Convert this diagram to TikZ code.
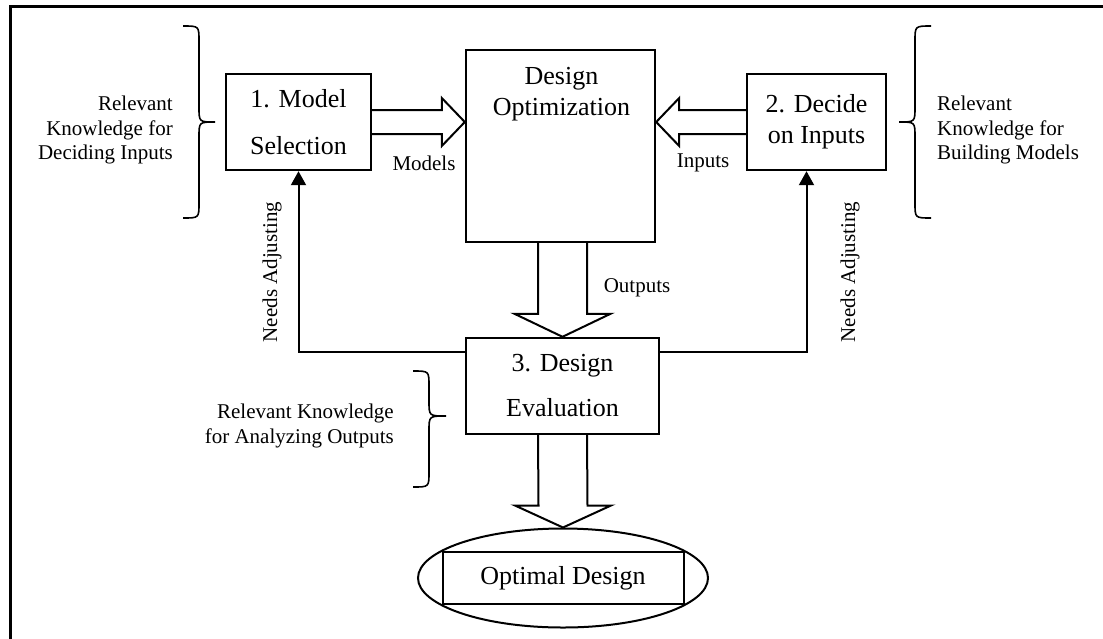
\documentclass[tikz,border=0pt]{standalone}
\usepackage{fontspec}
\setmainfont{Liberation Serif}
\usetikzlibrary{calc,shapes.geometric,arrows.meta}
\newcommand\kbrace[6]{% xe xv xt yt ym yb
  \draw[brc] (#1,#4) .. controls (#2,#4) .. (#2,{#4+15}) -- (#2,{#5-15})
    .. controls (#2,#5) .. (#3,#5) .. controls (#2,#5) .. (#2,{#5+15})
    -- (#2,{#6-15}) .. controls (#2,#6) .. (#1,#6);}
\begin{document}
\begin{tikzpicture}[x=1pt,y=-1pt,
  box/.style={draw,line width=2.4pt,inner sep=0pt,align=center,font=\fontsize{26}{31}\selectfont},
  lab/.style={font=\fontsize{21}{24.5}\selectfont,inner sep=0pt},
  blk/.style={draw,line width=2pt,line join=miter},
  conn/.style={line width=2pt,-{Triangle[width=15pt,length=14pt]}},
  brc/.style={line width=1.6pt}]
\useasboundingbox (0,0) rectangle (1103,638);
\draw[line width=3pt] (10,640) -- (10,6.5) -- (1105,6.5);

\node[box,minimum width=145pt,minimum height=96pt] (ms) at (298.5,122) {1. Model\\[16pt]Selection};
\node[box,minimum width=189pt,minimum height=192pt] (do) at (560.5,146) {};
\node[inner sep=0pt,anchor=north,align=center,font=\fontsize{26}{31}\selectfont] (dot) at ($(do.north)+(1,18)$) {Design\\Optimization};
\node[box,minimum width=139pt,minimum height=96pt] (di) at (816.5,122) {2. Decide\\on Inputs};
\node[box,minimum width=193pt,minimum height=96pt] (de) at (562.5,386) {3. Design\\[14pt]Evaluation};
\node[draw,ellipse,line width=2pt,minimum width=290pt,minimum height=99pt,inner sep=0pt] (el) at (563,578) {};
\node[box,line width=2pt,minimum width=241pt,minimum height=52pt] (od) at (el.center) {Optimal Design};

\node[lab] (lm) at (424,163) {Models};
\node[lab] (li) at (703,163) {Inputs};
\node[lab] (lo) at (637,288) {Outputs};
\node[lab,rotate=90] (na1) at (272,272) {Needs Adjusting};
\node[lab,rotate=90] (na2) at (850,272) {Needs Adjusting};

\node[lab,align=right,anchor=east] (k1) at (173,130) {Relevant\\Knowledge for\\Deciding Inputs};
\node[lab,align=left,anchor=west] (k2) at (937,130) {Relevant\\Knowledge for\\Building Models};
\node[lab,align=right,anchor=east] (k3) at (394,426) {Relevant Knowledge\\for Analyzing Outputs};

\kbrace{183}{199}{215}{26}{122}{218}
\kbrace{931}{915}{899}{26}{122}{218}
\kbrace{413}{429}{446}{371}{416}{487}

% block arrows
\draw[blk] ($(ms.east)+(0,-12)$) -- ($(ms.east -| do.west)+(-23,-12)$) -- ++(0,-12)
  -- (ms.east -| do.west) -- ++(-23,24) -- ++(0,-12) -- ($(ms.east)+(0,12)$);
\draw[blk] ($(di.west)+(0,-12)$) -- ($(di.west -| do.east)+(23,-12)$) -- ++(0,-12)
  -- (di.west -| do.east) -- ++(23,24) -- ++(0,-12) -- ($(di.west)+(0,12)$);
\draw[blk] ($(de.north |- do.south)+(-24.5,0)$) -- ($(de.north)+(-24.5,-23)$) -- ++(-23.5,0)
  -- (de.north) -- ++(48,-23) -- ++(-23.5,0) -- ($(de.north |- do.south)+(24.5,0)$);
\draw[blk] ($(de.south)+(-24.5,0)$) -- ($(el.north)+(-24.5,-22)$) -- ++(-23.5,0)
  -- (el.north) -- ++(48,-22) -- ++(-23.5,0) -- ($(de.south)+(24.5,0)$);

% feedback connectors
\draw[conn] ($(de.north west)+(0,15)$) -| (ms.south);
\draw[conn] ($(de.north east)+(0,15)$) -| ($(di.south)+(-10,0)$);
\end{tikzpicture}
\end{document}
